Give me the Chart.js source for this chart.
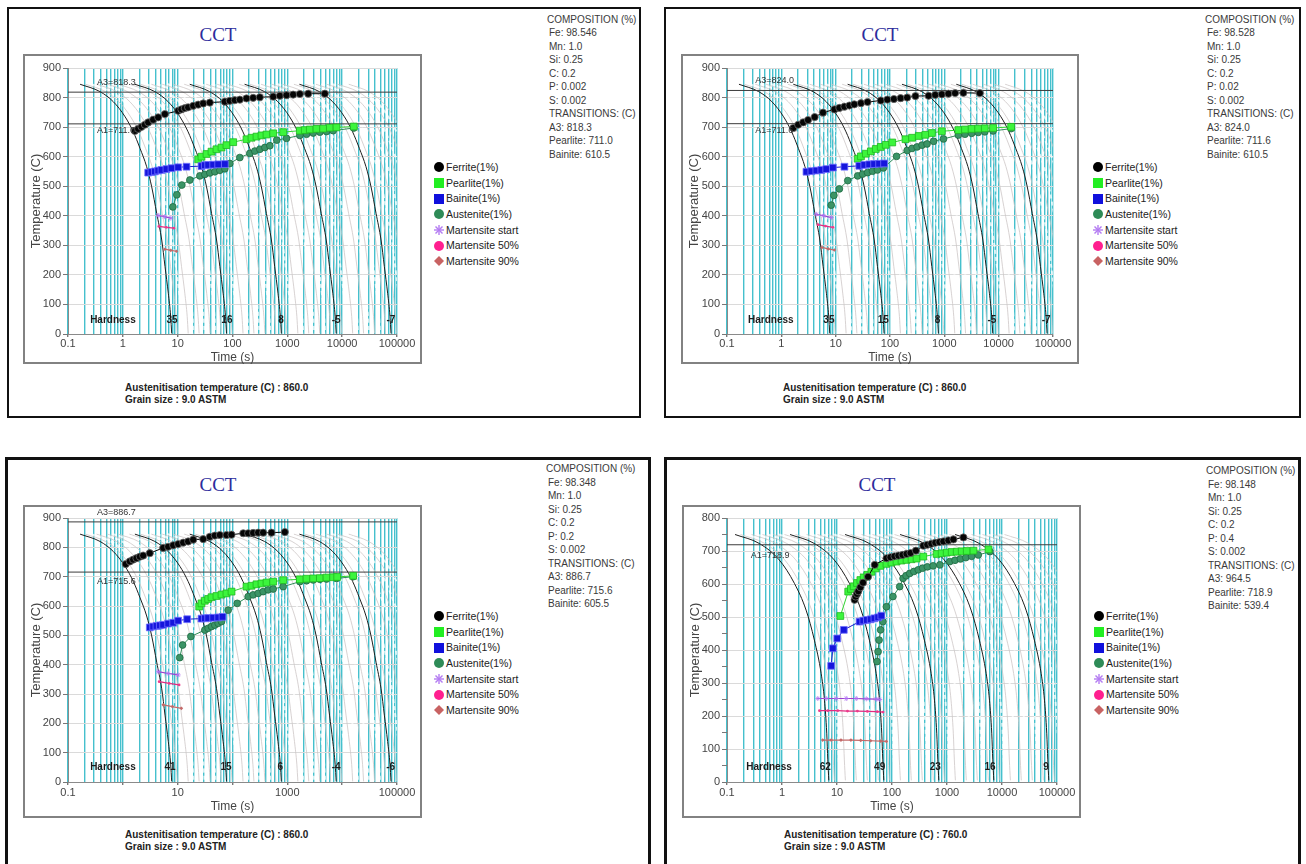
<!DOCTYPE html>
<html>
<head>
<meta charset="utf-8">
<title>CCT</title>
<script src="https://cdn.jsdelivr.net/npm/chart.js@4.4.1/dist/chart.umd.min.js"></script>
<style>
  body { margin: 0; background: #fff; }
  #page { position: relative; width: 1306px; height: 864px; overflow: hidden; font-family: Arial, "Liberation Sans", sans-serif; }
  .box { position: absolute; border: 2px solid #111; box-sizing: border-box; }
  .frame { position: absolute; border: 2px solid #828282; box-sizing: border-box; }
  .plot { position: absolute; }
  .cct { position: absolute; transform: translate(-50%, -50%); font-family: "Liberation Serif", "Times New Roman", serif; font-size: 19px; color: #2c2c9c; white-space: nowrap; }
  .comp { position: absolute; font-size: 10px; line-height: 13.5px; color: #3a3a3a; white-space: nowrap; }
  .comp div { padding-left: 2px; }
  .comp div:first-child { padding-left: 0; }
  .legend { position: absolute; font-size: 10.5px; line-height: 15.67px; color: #222; white-space: nowrap; }
  .legend svg { vertical-align: middle; margin-right: 1px; position: relative; top: -1px; }
  .foot { position: absolute; font-size: 10px; font-weight: bold; line-height: 12px; color: #222; white-space: nowrap; }
</style>
</head>
<body>
<div id="page"></div>
<script>
// ---- axis values ----
const timeDecades = [0.1, 1, 10, 100, 1000, 10000];
const minorSteps = [1, 2, 3, 4, 5, 6, 7, 8, 9];
const timeLabelsAll = [0.1, 1, 10, 100, 1000, 10000, 100000];
const timeLabelsAlt = [0.1, 10, 1000, 100000];

const legendLabels = ['Ferrite(1%)', 'Pearlite(1%)', 'Bainite(1%)', 'Austenite(1%)', 'Martensite start', 'Martensite 50%', 'Martensite 90%'];

// ---- cooling curves (austenitised at 860 C, panels 1-3) ----
const coolTemp860 = [845, 820, 786, 735, 684, 628, 566, 498, 408, 318, 228, 138, 59, 2];
const cool860a = [0.166, 0.384, 0.67, 1.1, 1.55, 2.06, 2.72, 3.36, 4.15, 5.12, 5.88, 6.75, 7.46, 7.78];
const cool860b = [1.66, 3.84, 6.7, 11, 15.5, 20.6, 27.2, 33.6, 41.5, 51.2, 58.8, 67.5, 74.6, 77.8];
const cool860c = [16.6, 38.4, 67, 110, 155, 206, 272, 336, 415, 512, 588, 675, 746, 778];
const cool860d = [166, 384, 670, 1100, 1550, 2060, 2720, 3360, 4150, 5120, 5880, 6750, 7460, 7780];
const cool860e = [1660, 3840, 6700, 11000, 15500, 20600, 27200, 33600, 41500, 51200, 58800, 67500, 74600, 77800];

// ---- cooling curves (austenitised at 760 C, panel 4) ----
const coolTemp760 = [750, 723, 673, 602, 521, 430, 329, 248, 148, 67, 5];
const cool760a = [0.14, 0.385, 0.89, 1.68, 2.74, 3.88, 5.15, 5.92, 6.51, 6.8, 7.1];
const cool760b = [1.4, 3.85, 8.9, 16.8, 27.4, 38.8, 51.5, 59.2, 65.1, 68, 71];
const cool760c = [14, 38.5, 89, 168, 274, 388, 515, 592, 651, 680, 710];
const cool760d = [140, 385, 890, 1680, 2740, 3880, 5150, 5920, 6510, 6800, 7100];
const cool760e = [1400, 3850, 8900, 16800, 27400, 38800, 51500, 59200, 65100, 68000, 71000];

// spacing of the thin intermediate cooling curves inside each decade
const fanShifts = [1.26, 1.58, 2.0, 2.51, 3.16, 3.98, 5.01, 6.31, 7.94];

// ---- panel 1 ----
const p1Comp = ['COMPOSITION (%)', 'Fe: 98.546', 'Mn: 1.0', 'Si: 0.25', 'C: 0.2', 'P: 0.002', 'S: 0.002', 'TRANSITIONS: (C)', 'A3: 818.3', 'Pearlite: 711.0', 'Bainite: 610.5'];
const p1Foot = ['Austenitisation temperature (C) : 860.0', 'Grain size : 9.0 ASTM'];
const p1A3 = 818.3, p1A1 = 711.0;
const p1Hardness = ['35', '16', '8', '-5', '-7'];
const p1HardTimes = [7.9, 79, 767, 7760, 77600];
const p1Ferrite = [[1.66,687],[1.9,694],[2.19,701],[2.52,708],[2.9,716],[3.57,725],[4.41,733],[5.84,744],[10.2,755],[11.7,760],[13.5,764],[15.5,767],[19.2,772],[23.7,776],[29.2,780],[38.6,783],[72.5,786],[89,789],[110,791],[136,793],[180,797],[238,799],[315,801],[552,803],[730,806],[966,808],[1277,810],[1690,812],[2400,813],[4830,813]];
const p1Pearlite = [[23.7,591],[27.2,600],[33.6,609],[41.4,617],[51,625],[63,631],[77.6,639],[103,649],[180,659],[222,664],[274,668],[338,672],[417,675],[552,679],[839,683],[1690,688],[2085,690],[2570,692],[3400,694],[4500,695],[5960,698],[7880,699],[16300,702]];
const p1Bainite = [[2.9,546],[3.33,548],[3.84,550],[4.41,553],[5.07,555],[6.25,558],[7.72,561],[10.2,564],[14.5,566],[27.2,568],[31.3,571],[36,572],[44.4,573],[54.8,574],[72.5,575]];
const p1Austenite = [[8.17,430],[9.66,471],[11.9,504],[16.7,521],[25.4,535],[31.3,540],[38.6,545],[47.6,549],[58.7,554],[72.5,559],[89.4,577],[136,597],[207,611],[255,619],[315,625],[389,631],[480,637],[643,656],[966,662],[1690,672],[2240,676],[2960,680],[3920,683],[5180,685],[6850,688],[16300,697]];
const p1MsStart = [[4.41,401],[5.8,397],[7.5,392]];
const p1Ms50 = [[4.54,364],[6.2,361],[8.5,358]];
const p1Ms90 = [[5.84,287],[7.5,283],[9.5,280]];

// ---- panel 2 ----
const p2Comp = ['COMPOSITION (%)', 'Fe: 98.528', 'Mn: 1.0', 'Si: 0.25', 'C: 0.2', 'P: 0.02', 'S: 0.002', 'TRANSITIONS: (C)', 'A3: 824.0', 'Pearlite: 711.6', 'Bainite: 610.5'];
const p2Foot = ['Austenitisation temperature (C) : 860.0', 'Grain size : 9.0 ASTM'];
const p2A3 = 824.0, p2A1 = 711.6;
const p2Hardness = ['35', '15', '8', '-5', '-7'];
const p2HardTimes = [7.5, 75, 750, 7500, 75000];
const p2Ferrite = [[1.66,697],[2.04,708],[2.52,716],[3.1,724],[4.11,734],[5.84,749],[9.5,760],[11.7,765],[14.5,769],[17.9,773],[22,777],[29.2,781],[38.6,785],[67.6,790],[89.4,793],[118,795],[157,798],[207,800],[294,805],[514,806],[680,809],[900,811],[1190,813],[1577,815],[2240,816],[4500,815]];
const p2Pearlite = [[25.4,593],[29.2,601],[36,610],[44.4,618],[54.8,626],[67.6,633],[83.4,640],[110,648],[193,659],[255,664],[338,670],[447,674],[591,680],[900,686],[1810,690],[2400,692],[3180,694],[4200,695],[5560,696],[7880,697],[17000,701]];
const p2Bainite = [[2.9,549],[3.57,551],[4.41,553],[5.44,555],[6.71,558],[8.88,563],[14.5,566],[27.2,569],[33.6,572],[41.4,574],[51,575],[63,576],[77.8,577]];
const p2Austenite = [[8.28,436],[9.26,469],[11.7,491],[16.7,519],[25.4,535],[31.3,541],[38.6,546],[47.6,551],[58.7,555],[75.5,562],[132,601],[207,621],[255,628],[315,633],[389,639],[480,643],[634,652],[966,660],[1810,673],[2400,676],[3180,679],[4200,682],[5560,684],[7880,687],[17000,695]];
const p2MsStart = [[4.41,405],[6,400],[8.28,394]];
const p2Ms50 = [[4.73,370],[6.5,365],[8.88,361]];
const p2Ms90 = [[5.6,293],[7.3,288],[9.5,284]];

// ---- panel 3 ----
const p3Comp = ['COMPOSITION (%)', 'Fe: 98.348', 'Mn: 1.0', 'Si: 0.25', 'C: 0.2', 'P: 0.2', 'S: 0.002', 'TRANSITIONS: (C)', 'A3: 886.7', 'Pearlite: 715.6', 'Bainite: 605.5'];
const p3Foot = ['Austenitisation temperature (C) : 860.0', 'Grain size : 9.0 ASTM'];
const p3A3 = 886.7, p3A1 = 715.6;
const p3Hardness = ['41', '15', '6', '-4', '-6'];
const p3HardTimes = [7.24, 76, 741, 7760, 76700];
const p3Ferrite = [[1.13,743],[1.34,752],[1.54,758],[1.77,763],[2.04,768],[2.35,772],[3.1,780],[5.44,798],[6.71,802],[8.28,807],[10.2,811],[12.6,816],[15.5,820],[19.2,826],[29.2,828],[38.6,836],[47.6,840],[58.7,842],[77.7,842],[95.9,843],[157,848],[193,848],[238,849],[294,850],[362,850],[514,850],[900,852]];
const p3Pearlite = [[24.7,598],[27.2,609],[31.3,618],[36,624],[41.4,630],[51,634],[63,639],[77.6,643],[96,649],[180,666],[222,669],[274,674],[338,677],[417,680],[552,683],[839,688],[1690,691],[2240,693],[2960,694],[3920,695],[5180,697],[6850,698],[8110,699],[15900,703]];
const p3Bainite = [[3.1,527],[3.57,530],[4.11,532],[4.73,534],[5.44,536],[6.71,540],[8.28,543],[10.2,550],[14.9,555],[27.2,557],[31.3,558],[36,559],[44.4,560],[54.8,561],[65.7,563]];
const p3Austenite = [[10.9,424],[12.3,467],[17.4,496],[31.3,518],[36,524],[41.4,530],[47.6,535],[54.8,541],[63,547],[83.4,586],[122,609],[193,632],[238,638],[294,643],[362,649],[447,655],[552,658],[839,666],[1690,683],[2240,686],[2960,689],[3920,691],[5180,692],[7880,694],[15900,700]];
const p3MsStart = [[4.41,376],[6.7,370],[10.2,365]];
const p3Ms50 = [[4.6,342],[7,336],[10.6,331]];
const p3Ms90 = [[5.44,263],[8,257],[11.7,251]];

// ---- panel 4 ----
const p4Comp = ['COMPOSITION (%)', 'Fe: 98.148', 'Mn: 1.0', 'Si: 0.25', 'C: 0.2', 'P: 0.4', 'S: 0.002', 'TRANSITIONS: (C)', 'A3: 964.5', 'Pearlite: 718.9', 'Bainite: 539.4'];
const p4Foot = ['Austenitisation temperature (C) : 760.0', 'Grain size : 9.0 ASTM'];
const p4A3 = 964.5, p4A1 = 718.9;
const p4Hardness = ['62', '49', '23', '16', '9'];
const p4HardTimes = [6.1, 59.7, 610, 6040, 63000];
const p4Ferrite = [[20.9,552],[21.8,562],[23.1,570],[24.4,578],[26.6,590],[29.7,604],[36.7,622],[48.5,658],[79.3,678],[93.8,681],[111,684],[131,686],[155,688],[184,691],[217,694],[272,701],[370,716],[438,719],[519,722],[614,725],[726,727],[859,729],[1060,732],[1307,735],[1990,741]];
const p4Pearlite = [[11.5,503],[16,577],[17.9,585],[20.1,593],[23.1,603],[26.6,612],[30.6,620],[35.7,628],[42.2,637],[50.6,647],[61.6,655],[79.3,661],[97.8,665],[121,668],[149,671],[184,673],[227,675],[280,677],[370,683],[649,691],[800,693],[988,695],[1218,697],[1503,698],[1854,699],[2290,700],[3030,701],[5690,705]];
const p4Bainite = [[7.83,352],[8.4,405],[10.1,435],[13.3,461],[25.7,486],[30,489],[35,491],[41,493],[48,496],[56,499],[64,504]];
const p4Austenite = [[53.5,365],[55.8,395],[58.2,430],[62,461],[68.5,486],[79,531],[104,562],[138,592],[159,617],[180,625],[210,632],[250,638],[300,643],[360,648],[440,652],[560,655],[741,658],[1126,668],[1400,672],[1750,676],[2200,680],[2800,684],[3700,688],[6030,698]];
const p4MsStart = [[4.48,253],[6.35,253],[9.68,253],[14.7,253],[22.4,253],[34.1,252],[52,251],[59.8,250]];
const p4Ms50 = [[4.8,216],[6.8,216],[10.3,216],[15.5,215],[23.5,215],[35.7,214],[54,213],[68.7,212]];
const p4Ms90 = [[5.5,127],[7.8,127],[11.8,127],[17.9,127],[27,126],[41,125],[62,124],[79,123]];

// grid positions for the log time axis
const gridTimes = [];
timeDecades.forEach(d => minorSteps.forEach(m => gridTimes.push(+(d * m).toPrecision(6))));
gridTimes.push(100000);

const FONT = 'Arial, "Liberation Sans", sans-serif';
Chart.defaults.font.family = FONT;

const markerStyles = {
    ferrite:   { borderColor: '#000', borderWidth: 1, pointStyle: 'circle', pointRadius: 3.6, pointBackgroundColor: '#050505', pointBorderColor: '#6a6a6a', pointBorderWidth: 0.8 },
    pearlite:  { borderColor: '#2fd32f', borderWidth: 1, pointStyle: 'rect', pointRadius: 4.8, pointBackgroundColor: '#3cf53c', pointBorderColor: '#1fb81f', pointBorderWidth: 0.8 },
    bainite:   { borderColor: '#1a1ad0', borderWidth: 1, pointStyle: 'rect', pointRadius: 4.8, pointBackgroundColor: '#1515dc', pointBorderColor: '#7070ff', pointBorderWidth: 0.8 },
    austenite: { borderColor: '#2e8b57', borderWidth: 1, pointStyle: 'circle', pointRadius: 3.4, pointBackgroundColor: '#3b9466', pointBorderColor: '#1e6a40', pointBorderWidth: 0.8 },
    msStart:   { borderColor: '#9a3fd0', borderWidth: 1.2, pointStyle: 'star', pointRadius: 2.5, pointBackgroundColor: '#b070f0', pointBorderColor: '#b070f0', pointBorderWidth: 0.8 },
    ms50:      { borderColor: '#e02c80', borderWidth: 1.2, pointStyle: 'circle', pointRadius: 1.4, pointBackgroundColor: '#ee3a8c', pointBorderColor: '#ee3a8c', pointBorderWidth: 0 },
    ms90:      { borderColor: '#c46a6a', borderWidth: 1.2, pointStyle: 'rectRot', pointRadius: 1.8, pointBackgroundColor: '#c46a6a', pointBorderColor: '#c46a6a', pointBorderWidth: 0 }
};

const legendIcons = [
    '<svg width="12" height="12"><circle cx="6" cy="6" r="5" fill="#000"/></svg>',
    '<svg width="12" height="12"><rect x="1" y="1" width="10" height="10" fill="#22ee22"/></svg>',
    '<svg width="12" height="12"><rect x="1" y="1" width="10" height="10" fill="#1010dd"/></svg>',
    '<svg width="12" height="12"><circle cx="6" cy="6" r="5" fill="#2e8b57"/></svg>',
    '<svg width="12" height="12" stroke="#b47cf2" stroke-width="1.4"><line x1="6" y1="1" x2="6" y2="11"/><line x1="1" y1="6" x2="11" y2="6"/><line x1="2.5" y1="2.5" x2="9.5" y2="9.5"/><line x1="9.5" y1="2.5" x2="2.5" y2="9.5"/></svg>',
    '<svg width="12" height="12"><circle cx="6" cy="6" r="5" fill="#ff1f8f"/></svg>',
    '<svg width="12" height="12"><polygon points="6,1 11,6 6,11 1,6" fill="#c86262"/></svg>'
];

const panels = [
    { box: [7, 7, 634, 411, 2], frame: [23, 54, 399, 310], left: 45, top: 14, right: 25, axisH: 30, xPad: 0, titleB: -1,
      ymax: 900, xLabels: timeLabelsAll, title: [218, 35], comp: [547, 12.5, p1Comp], legend: [433, 160], foot: [125, 382, p1Foot],
      curves: [cool860a, cool860b, cool860c, cool860d, cool860e], curveTemp: coolTemp860,
      ferrite: p1Ferrite, pearlite: p1Pearlite, bainite: p1Bainite, austenite: p1Austenite, msStart: p1MsStart, ms50: p1Ms50, ms90: p1Ms90,
      a3: p1A3, a1: p1A1, a3dy: -10, a1dy: 7, hardness: p1Hardness, hardTimes: p1HardTimes, hardT: 47, hardWordT: 0.66, aLabelT: 0.338 },
    { box: [664, 7, 637, 411, 2], frame: [681, 54, 398, 310], left: 46, top: 14, right: 26, axisH: 30, xPad: 0, titleB: -1,
      ymax: 900, xLabels: timeLabelsAll, title: [880, 35], comp: [1205, 12.5, p2Comp], legend: [1092, 160], foot: [783, 382, p2Foot],
      curves: [cool860a, cool860b, cool860c, cool860d, cool860e], curveTemp: coolTemp860,
      ferrite: p2Ferrite, pearlite: p2Pearlite, bainite: p2Bainite, austenite: p2Austenite, msStart: p2MsStart, ms50: p2Ms50, ms90: p2Ms90,
      a3: p2A3, a1: p2A1, a3dy: -10, a1dy: 7, hardness: p2Hardness, hardTimes: p2HardTimes, hardT: 47, hardWordT: 0.64, aLabelT: 0.33 },
    { box: [5, 457, 646, 420, 3], frame: [23, 505, 399, 313], left: 45, top: 13, right: 25, axisH: 36, xPad: 1, titleB: 4,
      ymax: 900, xLabels: timeLabelsAlt, title: [218, 485], comp: [546, 462, p3Comp], legend: [433, 609], foot: [125, 829, p3Foot],
      curves: [cool860a, cool860b, cool860c, cool860d, cool860e], curveTemp: coolTemp860,
      ferrite: p3Ferrite, pearlite: p3Pearlite, bainite: p3Bainite, austenite: p3Austenite, msStart: p3MsStart, ms50: p3Ms50, ms90: p3Ms90,
      a3: p3A3, a1: p3A1, a3dy: -9, a1dy: 9, hardness: p3Hardness, hardTimes: p3HardTimes, hardT: 51, hardWordT: 0.66, aLabelT: 0.338 },
    { box: [664, 457, 637, 420, 3], frame: [682, 505, 399, 313], left: 45, top: 13, right: 24, axisH: 36, xPad: 1, titleB: 4,
      ymax: 800, xLabels: timeLabelsAll, title: [877, 485], comp: [1206, 464, p4Comp], legend: [1093, 609], foot: [784, 829, p4Foot],
      curves: [cool760a, cool760b, cool760c, cool760d, cool760e], curveTemp: coolTemp760,
      ferrite: p4Ferrite, pearlite: p4Pearlite, bainite: p4Bainite, austenite: p4Austenite, msStart: p4MsStart, ms50: p4Ms50, ms90: p4Ms90,
      a3: p4A3, a1: p4A1, a3dy: -10, a1dy: 11, hardness: p4Hardness, hardTimes: p4HardTimes, hardT: 46, hardWordT: 0.58, aLabelT: 0.27 }
];

// draws the A1/A3 labels and the hardness row
const cctText = {
    id: 'cctText',
    afterDatasetsDraw(chart, args, opts) {
        const { ctx, scales: { x, y } } = chart;
        ctx.save();
        ctx.textBaseline = 'middle';
        opts.items.forEach(it => {
            ctx.font = it.font;
            ctx.fillStyle = it.color;
            ctx.textAlign = it.align;
            ctx.fillText(it.text, x.getPixelForValue(it.t), y.getPixelForValue(it.T) + (it.dy || 0));
        });
        ctx.restore();
    }
};

function toPoints(pairs) {
    return pairs.map(p => ({ x: p[0], y: p[1] }));
}

function isDecade(v) {
    return timeLabelsAll.some(d => Math.abs(v - d) / d < 1e-6);
}

function addDiv(cls, x, y, html) {
    const d = document.createElement('div');
    d.className = cls;
    d.style.left = x + 'px';
    d.style.top = y + 'px';
    if (html != null) d.innerHTML = html;
    document.getElementById('page').appendChild(d);
    return d;
}

function buildPanel(P) {
    const box = addDiv('box', P.box[0], P.box[1]);
    box.style.width = P.box[2] + 'px';
    box.style.height = P.box[3] + 'px';
    box.style.borderWidth = P.box[4] + 'px';

    const frame = addDiv('frame', P.frame[0], P.frame[1]);
    frame.style.width = P.frame[2] + 'px';
    frame.style.height = P.frame[3] + 'px';

    const cv = document.createElement('canvas');
    cv.className = 'plot';
    cv.width = P.frame[2];
    cv.height = P.frame[3];
    cv.style.left = P.frame[0] + 'px';
    cv.style.top = P.frame[1] + 'px';
    document.getElementById('page').appendChild(cv);

    addDiv('cct', P.title[0], P.title[1], 'CCT');

    const comp = addDiv('comp', P.comp[0], P.comp[1]);
    P.comp[2].forEach(t => {
        const d = document.createElement('div');
        d.textContent = t;
        comp.appendChild(d);
    });

    const leg = addDiv('legend', P.legend[0], P.legend[1]);
    legendLabels.forEach((t, i) => {
        const d = document.createElement('div');
        d.innerHTML = legendIcons[i] + '<span></span>';
        d.lastChild.textContent = t;
        leg.appendChild(d);
    });

    const foot = addDiv('foot', P.foot[0], P.foot[1]);
    P.foot[2].forEach(t => {
        const d = document.createElement('div');
        d.textContent = t;
        foot.appendChild(d);
    });

    // datasets: markers first so they sit on top of the curves
    const datasets = [];
    ['ferrite', 'bainite', 'pearlite', 'austenite', 'msStart', 'ms50', 'ms90'].forEach(key => {
        datasets.push(Object.assign({ data: toPoints(P[key]), showLine: true }, markerStyles[key]));
    });
    [P.a3, P.a1].forEach(a => {
        if (a < P.ymax) {
            datasets.push({ data: toPoints([[0.1, a], [100000, a]]), showLine: true, borderColor: '#3c3c3c', borderWidth: 1, pointRadius: 0 });
        }
    });
    P.curves.forEach(times => {
        datasets.push({
            data: toPoints(times.map((t, i) => [t, P.curveTemp[i]])),
            showLine: true, borderColor: '#1e1e1e', borderWidth: 1, pointRadius: 0,
            cubicInterpolationMode: 'monotone'
        });
    });
    // thin intermediate cooling curves between the heavy ones
    P.curves.forEach(times => {
        fanShifts.forEach((s, j) => {
            const dashed = j % 2 === 1;
            datasets.push({
                data: toPoints(times.map((t, i) => [t * s, P.curveTemp[i]])),
                showLine: true, pointRadius: 0, cubicInterpolationMode: 'monotone',
                borderColor: dashed ? 'rgba(255,255,255,0.75)' : '#cdc7c7',
                borderWidth: dashed ? 2 : 0.8,
                borderDash: dashed ? [4, 3] : []
            });
        });
    });

    const items = [];
    if (P.a3 < P.ymax) items.push({ text: 'A3=' + P.a3.toFixed(1), t: P.aLabelT, T: P.a3, dy: P.a3dy, font: '9px ' + FONT, color: '#333', align: 'left' });
    items.push({ text: 'A1=' + P.a1.toFixed(1), t: P.aLabelT, T: P.a1, dy: P.a1dy, font: '9px ' + FONT, color: '#333', align: 'left' });
    items.push({ text: 'Hardness', t: P.hardWordT, T: P.hardT, font: 'bold 10px ' + FONT, color: '#1c1c1c', align: 'center' });
    P.hardness.forEach((h, i) => {
        items.push({ text: h, t: P.hardTimes[i], T: P.hardT, font: 'bold 10px ' + FONT, color: '#1c1c1c', align: 'center' });
    });

    new Chart(cv, {
        type: 'scatter',
        data: { datasets },
        plugins: [cctText],
        options: {
            responsive: false,
            animation: false,
            devicePixelRatio: 1,
            events: [],
            layout: { padding: { left: 0, top: P.top, right: P.right, bottom: 0 } },
            plugins: {
                legend: { display: false },
                tooltip: { enabled: false },
                cctText: { items }
            },
            scales: {
                x: {
                    type: 'logarithmic',
                    min: 0.1,
                    max: 100000,
                    afterBuildTicks: s => { s.ticks = gridTimes.map(v => ({ value: v })); },
                    afterFit: s => { s.height = P.axisH; },
                    grid: {
                        color: '#45c0cd',
                        lineWidth: 1.4,
                        drawTicks: true,
                        tickLength: 3,
                        tickColor: c => (c.tick && isDecade(c.tick.value) ? '#777' : 'rgba(0,0,0,0)')
                    },
                    border: { color: '#8a8a8a', width: 1 },
                    ticks: {
                        autoSkip: false,
                        maxRotation: 0,
                        padding: P.xPad,
                        color: '#444',
                        font: { size: 11 },
                        callback: v => {
                            const hit = P.xLabels.find(l => Math.abs(v - l) / l < 1e-6);
                            return hit === undefined ? '' : String(hit);
                        }
                    },
                    title: { display: true, text: 'Time (s)', color: '#444', font: { size: 12 }, padding: { top: 0, bottom: P.titleB } }
                },
                y: {
                    min: 0,
                    max: P.ymax,
                    afterBuildTicks: s => {
                        const t = [];
                        for (let v = 0; v <= P.ymax; v += 50) t.push({ value: v });
                        s.ticks = t;
                    },
                    afterFit: s => { s.width = P.left; },
                    grid: {
                        color: c => (c.tick && c.tick.value % 100 === 0 ? '#dadada' : 'rgba(0,0,0,0)'),
                        lineWidth: 1,
                        tickLength: 5,
                        tickColor: '#777'
                    },
                    border: { color: '#8a8a8a', width: 1 },
                    ticks: {
                        padding: 2,
                        color: '#444',
                        font: { size: 11 },
                        callback: v => (v % 100 === 0 ? String(v) : '')
                    },
                    title: { display: true, text: 'Temperature (C)', color: '#444', font: { size: 13 }, padding: { top: 6, bottom: 0 } }
                }
            }
        }
    });
}

panels.forEach(buildPanel);
</script>
</body>
</html>
